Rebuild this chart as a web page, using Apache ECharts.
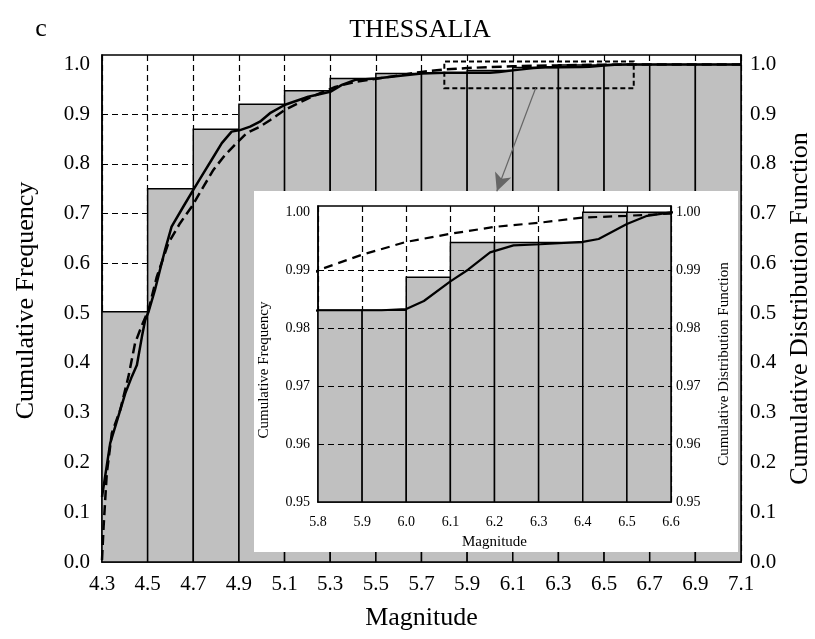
<!DOCTYPE html>
<html>
<head>
<meta charset="UTF-8">
<title>THESSALIA</title>
<script src="https://cdn.jsdelivr.net/npm/echarts@6/dist/echarts.min.js"></script>
</head>
<body style="margin:0;background:#fff;">
<div id="chart" style="width:815px;height:639px;"></div>
<script>
// cumulative frequency per magnitude bin (main plot, 0.2 wide bins)
var mainBinStart = [4.3, 4.5, 4.7, 4.9, 5.1, 5.3, 5.5, 5.7, 5.9, 6.1, 6.3, 6.5, 6.7, 6.9];
var mainBinWidth = 0.2;
var mainCumFreq = [0.503, 0.750, 0.870, 0.920, 0.947, 0.972, 0.982, 0.983, 0.988, 0.994, 0.999, 1.0, 1.0, 1.0];

// zoomed part (0.1 wide bins)
var insetBinStart = [5.8, 5.9, 6.0, 6.1, 6.2, 6.3, 6.4, 6.5];
var insetBinWidth = 0.1;
var insetCumFreq = [0.9831, 0.9831, 0.9888, 0.9948, 0.9948, 0.9948, 1.0, 1.0];

// empirical curve (solid)
var empMag = [4.3, 4.336, 4.358, 4.402, 4.431, 4.453, 4.475, 4.489, 4.504, 4.532, 4.576, 4.605, 4.656, 4.70,
  4.744, 4.78, 4.825, 4.868, 4.905, 4.949, 4.992, 5.036, 5.102, 5.204, 5.3, 5.351, 5.41, 5.5, 5.598, 5.7,
  5.8, 5.944, 6.0, 6.04, 6.1, 6.14, 6.19, 6.243, 6.304, 6.4, 6.436, 6.5, 6.546, 6.6, 7.1];
var empCdf = [0.131, 0.239, 0.272, 0.339, 0.373, 0.396, 0.453, 0.486, 0.503, 0.547, 0.627, 0.674, 0.714, 0.748,
  0.781, 0.808, 0.842, 0.865, 0.868, 0.875, 0.885, 0.902, 0.919, 0.935, 0.945, 0.959, 0.969, 0.972, 0.977, 0.982,
  0.9831, 0.9831, 0.9833, 0.9847, 0.9881, 0.9901, 0.9931, 0.9943, 0.9945, 0.9949, 0.9954, 0.9980, 0.9994, 1.0, 1.0];

// fitted distribution function (dashed)
var fitMag = [4.3, 4.307, 4.314, 4.321, 4.343, 4.38, 4.416, 4.445, 4.475, 4.504, 4.54, 4.591, 4.642, 4.693,
  4.744, 4.788, 4.839, 4.89, 4.934, 4.992, 5.036, 5.102, 5.204, 5.322, 5.41, 5.5, 5.6, 5.7,
  5.8, 5.9, 6.0, 6.1, 6.2, 6.3, 6.4, 6.5, 6.6, 6.8, 7.1];
var fitCdf = [0.004, 0.071, 0.125, 0.178, 0.259, 0.306, 0.373, 0.44, 0.476, 0.507, 0.573, 0.641, 0.681, 0.714,
  0.754, 0.788, 0.818, 0.842, 0.862, 0.875, 0.888, 0.909, 0.932, 0.955, 0.965, 0.971, 0.978, 0.985,
  0.990, 0.9927, 0.9949, 0.9963, 0.9975, 0.9982, 0.9991, 0.9994, 0.9998, 1.0, 1.0];

// dashed grid levels
var mainGridY = [0.1, 0.2, 0.3, 0.4, 0.5, 0.6, 0.7, 0.8, 0.9];
var insetGridY = [0.96, 0.97, 0.98, 0.99];

// zoom box on the main plot and the arrow pointing to the inset
var zoomBoxMag = [5.8, 6.63];
var zoomBoxCdf = [0.952, 1.006];
var arrowFrom = [6.2, 0.952];
var arrowTo = [6.03, 0.745];

var FONT = 'Liberation Serif';

function zip(a, b) {
  return a.map(function (v, i) { return [v, b[i]]; });
}

function bins(start, width, freq) {
  return start.map(function (s, i) { return [s, +(s + width).toFixed(2), freq[i]]; });
}

function barRenderer(base) {
  return function (params, api) {
    var p0 = api.coord([api.value(0), api.value(2)]);
    var p1 = api.coord([api.value(1), base]);
    return {
      type: 'rect',
      shape: { x: p0[0], y: p0[1], width: p1[0] - p0[0], height: p1[1] - p0[1] },
      style: { fill: '#c0c0c0', stroke: '#000', lineWidth: 1.5 }
    };
  };
}

function gridLines(values, z) {
  return {
    silent: true,
    symbol: 'none',
    z: z,
    label: { show: false },
    lineStyle: { color: '#000', type: [6, 4], width: 1.2 },
    emphasis: { disabled: true },
    data: values.map(function (v) { return { yAxis: v }; })
  };
}

var dashLine = { color: '#000', type: [6, 4], width: 1.2 };

var chart = echarts.init(document.getElementById('chart'));

var option = {
  animation: false,
  backgroundColor: '#fff',
  grid: [
    { left: 102, right: 74, top: 55, bottom: 77, outerBoundsMode: 'none', containLabel: false,
      show: true, borderColor: '#000', borderWidth: 1.5 },
    { left: 318, right: 144, top: 206, bottom: 137, outerBoundsMode: 'none', containLabel: false,
      show: true, borderColor: '#000', borderWidth: 1.5, z: 11 }
  ],
  xAxis: [
    {
      type: 'value', gridIndex: 0, min: 4.3, max: 7.1, interval: 0.2,
      name: 'Magnitude', nameLocation: 'middle', nameGap: 43,
      nameTextStyle: { fontFamily: FONT, fontSize: 26, color: '#000' },
      axisLine: { lineStyle: { color: '#000', width: 1.5 } },
      axisTick: { show: false },
      axisLabel: { fontFamily: FONT, fontSize: 21, color: '#000', margin: 12,
        formatter: function (v) { return v.toFixed(1); } },
      splitLine: { show: true, lineStyle: dashLine }
    },
    {
      type: 'value', gridIndex: 1, min: 5.8, max: 6.6, interval: 0.1, z: 11,
      name: 'Magnitude', nameLocation: 'middle', nameGap: 33,
      nameTextStyle: { fontFamily: FONT, fontSize: 15, color: '#000' },
      axisLine: { lineStyle: { color: '#000', width: 1.5 } },
      axisTick: { show: false },
      axisLabel: { fontFamily: FONT, fontSize: 14, color: '#000', margin: 13,
        formatter: function (v) { return v.toFixed(1); } },
      splitLine: { show: true, lineStyle: dashLine }
    }
  ],
  yAxis: [
    {
      type: 'value', gridIndex: 0, min: 0, max: 1.019, interval: 0.1,
      name: 'Cumulative Frequency', nameLocation: 'middle', nameGap: 63,
      nameTextStyle: { fontFamily: FONT, fontSize: 26, color: '#000', padding: [0, 0, 0, 16] },
      axisLine: { show: true, lineStyle: { color: '#000', width: 1.5 } },
      axisTick: { show: false },
      axisLabel: { fontFamily: FONT, fontSize: 21, color: '#000', margin: 12, showMaxLabel: false,
        formatter: function (v) { return v.toFixed(1); } },
      splitLine: { show: false }
    },
    {
      type: 'value', gridIndex: 0, position: 'right', min: 0, max: 1.019, interval: 0.1,
      name: 'Cumulative Distribution Function', nameLocation: 'middle', nameGap: 46,
      nameTextStyle: { fontFamily: FONT, fontSize: 26, color: '#000' },
      axisLine: { show: true, lineStyle: { color: '#000', width: 1.5 } },
      axisTick: { show: false },
      axisLabel: { fontFamily: FONT, fontSize: 21, color: '#000', margin: 9, showMaxLabel: false,
        formatter: function (v) { return v.toFixed(1); } },
      splitLine: { show: false }
    },
    {
      type: 'value', gridIndex: 1, min: 0.95, max: 1.0011, interval: 0.01, z: 11,
      name: 'Cumulative Frequency', nameLocation: 'middle', nameGap: 46,
      nameTextStyle: { fontFamily: FONT, fontSize: 15, color: '#000', padding: [0, 32, 0, 0] },
      axisLine: { show: true, lineStyle: { color: '#000', width: 1.5 } },
      axisTick: { show: false },
      axisLabel: { fontFamily: FONT, fontSize: 14, color: '#000', margin: 8, showMaxLabel: false,
        formatter: function (v) { return v.toFixed(2); } },
      splitLine: { show: false }
    },
    {
      type: 'value', gridIndex: 1, position: 'right', min: 0.95, max: 1.0011, interval: 0.01, z: 11,
      name: 'Cumulative Distribution Function', nameLocation: 'middle', nameGap: 46,
      nameTextStyle: { fontFamily: FONT, fontSize: 15, color: '#000', padding: [0, 20, 0, 0] },
      axisLine: { show: true, lineStyle: { color: '#000', width: 1.5 } },
      axisTick: { show: false },
      axisLabel: { fontFamily: FONT, fontSize: 14, color: '#000', margin: 5, showMaxLabel: false,
        formatter: function (v) { return v.toFixed(2); } },
      splitLine: { show: false }
    }
  ],
  graphic: [
    { type: 'rect', z: 10, shape: { x: 254, y: 191, width: 484, height: 361 }, style: { fill: '#fff' } },
    { type: 'text', x: 420, y: 30, style: { text: 'THESSALIA', font: '26px "Liberation Serif"', fill: '#000',
        textAlign: 'center', textVerticalAlign: 'middle' } },
    { type: 'text', x: 41, y: 29, style: { text: 'c', font: '26px "Liberation Serif"', fill: '#000',
        textAlign: 'center', textVerticalAlign: 'middle' } }
  ],
  series: [
    {
      type: 'custom', xAxisIndex: 0, yAxisIndex: 0, z: 2, clip: true,
      renderItem: barRenderer(0),
      encode: { x: [0, 1], y: 2 },
      data: bins(mainBinStart, mainBinWidth, mainCumFreq)
    },
    {
      type: 'line', xAxisIndex: 0, yAxisIndex: 0, z: 3, showSymbol: false,
      lineStyle: { color: '#000', width: 2.5, type: [10, 5] },
      markLine: gridLines(mainGridY, 1),
      data: zip(fitMag, fitCdf)
    },
    {
      type: 'line', xAxisIndex: 0, yAxisIndex: 0, z: 4, showSymbol: false,
      lineStyle: { color: '#000', width: 2.5 },
      markArea: {
        silent: true, z: 11,
        itemStyle: { color: 'rgba(0,0,0,0)', borderColor: '#000', borderWidth: 2, borderType: [5, 3] },
        data: [[{ coord: [zoomBoxMag[0], zoomBoxCdf[0]] }, { coord: [zoomBoxMag[1], zoomBoxCdf[1]] }]]
      },
      markLine: {
        silent: true, z: 11,
        symbol: ['none', 'arrow'], symbolSize: [13, 18],
        label: { show: false },
        lineStyle: { color: '#666', type: 'solid', width: 1.2 },
        data: [[{ coord: arrowFrom }, { coord: arrowTo }]]
      },
      data: zip(empMag, empCdf)
    },
    {
      type: 'custom', xAxisIndex: 1, yAxisIndex: 2, z: 12, clip: true,
      renderItem: barRenderer(0.95),
      encode: { x: [0, 1], y: 2 },
      data: bins(insetBinStart, insetBinWidth, insetCumFreq)
    },
    {
      type: 'line', xAxisIndex: 1, yAxisIndex: 2, z: 13, showSymbol: false,
      lineStyle: { color: '#000', width: 2.2, type: [9, 6] },
      markLine: gridLines(insetGridY, 15),
      data: zip(fitMag, fitCdf)
    },
    {
      type: 'line', xAxisIndex: 1, yAxisIndex: 2, z: 14, showSymbol: false,
      lineStyle: { color: '#000', width: 2.2 },
      data: zip(empMag, empCdf)
    }
  ]
};

chart.setOption(option);
</script>
</body>
</html>
